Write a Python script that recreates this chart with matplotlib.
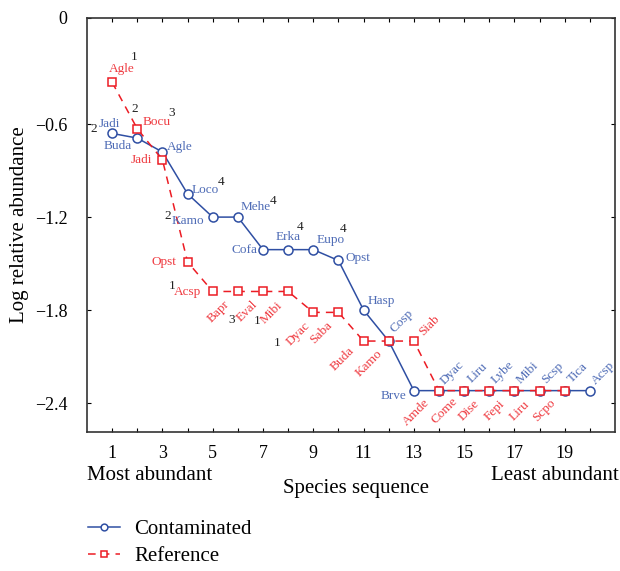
#! /usr/bin/env python3
## Rank-abundance plot: contaminated vs reference sites

import matplotlib
matplotlib.use("Agg")
import matplotlib.pyplot as plt

plt.rcParams['font.family'] = ['Liberation Serif', 'DejaVu Serif']

#-----------------------------------------------------------------------
## Data
cont_names = ['Jadi', 'Buda', 'Agle', 'Loco', 'Kamo', 'Mehe', 'Cofa', 'Erka',
              'Eupo', 'Opst', 'Hasp', 'Cosp', 'Brve', 'Dyac', 'Liru', 'Lybe',
              'Mibi', 'Scsp', 'Tica', 'Acsp']
cont_vals = [-0.66, -0.69, -0.78, -1.05, -1.20, -1.20, -1.41, -1.41,
             -1.41, -1.48, -1.80, -2.00, -2.32, -2.32, -2.32, -2.32,
             -2.32, -2.32, -2.32, -2.32]

ref_names = ['Agle', 'Bocu', 'Jadi', 'Opst', 'Acsp', 'Bapr', 'Eval', 'Mibi',
             'Dyac', 'Saba', 'Buda', 'Kamo', 'Siab', 'Amde', 'Come', 'Dise',
             'Fepi', 'Liru', 'Scpo']
ref_vals = [-0.33, -0.63, -0.83, -1.49, -1.68, -1.68, -1.68, -1.68,
            -1.815, -1.815, -2.00, -2.00, -2.00, -2.32, -2.32, -2.32,
            -2.32, -2.32, -2.32]

# superscript numbers: (series, index, text)
supers = [('c', 0, '2'), ('r', 0, '1'), ('r', 1, '2'), ('r', 1, '3'),
          ('c', 3, '4'), ('c', 4, '2'), ('c', 5, '4'), ('c', 7, '4'),
          ('c', 8, '4'), ('r', 4, '1'), ('r', 6, '3'), ('r', 7, '1'),
          ('r', 8, '1')]

#-----------------------------------------------------------------------
## Label placement (pixel offsets, rotation)
cont_lab = [(-3, 9, 0), (-20, -8, 0), (17, 5, 0), (18, 4, 0), (-25, -4, 0),
            (18, 10, 0), (-19, 0, 0), (0, 13, 0), (17, 10, 0), (20, 2, 0),
            (18, 9, 0), (13, 20, 45), (-20, -5, 0)] + [(13, 18, 45)] * 7
ref_lab = [(10, 13, 0), (19, 7, 0), (-21, 0, 0), (-24, 0, 0), (-25, -1, 0),
           (-19, -20, 45), (-16, -20, 45), (-17, -21, 45), (-15, -21, 45),
           (-17, -20, 45), (-21, -18, 45), (-20, -22, 45), (15, 16, 45),
           (-23, -22, 45)] + [(-20, -20, 45)] * 5
super_off = [(-18, 4), (22, 25), (-3, 20), (34, 16), (33, 12), (-45, 1),
             (35, 16), (12, 23), (30, 21), (-41, 5), (-31, -29), (-31, -30),
             (-36, -31)]

blue = '#2f4fa3'
blue_txt = '#4f6cb6'
red = '#ec1c24'
red_txt = '#ef3b41'

#-----------------------------------------------------------------------
## Plot
fig = plt.figure(figsize=(6.2, 5.71), dpi=100)
ax = fig.add_axes([87/620, 1-432/571, (615-87)/620, (432-18)/571])

xc = list(range(1, len(cont_vals)+1))
xr = list(range(1, len(ref_vals)+1))

ax.plot(xc, cont_vals, '-o', color=blue, lw=1.1, ms=6.5,
        mfc='white', mec=blue, mew=1.1, label='Contaminated', zorder=3)
ax.plot(xr, ref_vals, '--s', color=red, lw=1.1, ms=6, dashes=(5, 4),
        mfc='white', mec=red, mew=1.1, label='Reference', zorder=4)

for x, y, n, (dx, dy, rot) in zip(xc, cont_vals, cont_names, cont_lab):
    ax.annotate(n, (x, y), xytext=(dx, dy), textcoords='offset pixels',
                ha='center', va='center', rotation=rot, fontsize=9.5,
                color=blue_txt, zorder=5)
for x, y, n, (dx, dy, rot) in zip(xr, ref_vals, ref_names, ref_lab):
    ax.annotate(n, (x, y), xytext=(dx, dy), textcoords='offset pixels',
                ha='center', va='center', rotation=rot, fontsize=9.5,
                color=red_txt, zorder=5)
for (s, i, t), (dx, dy) in zip(supers, super_off):
    yv = cont_vals[i] if s == 'c' else ref_vals[i]
    ax.annotate(t, (i+1, yv), xytext=(dx, dy), textcoords='offset pixels',
                ha='center', va='center', fontsize=9.5, color='#222222')

ytop = 0.085
ax.set_xlim(0, 21)
ax.set_ylim(-2.587, ytop)
ax.set_xticks(range(1, 21))
ax.set_xticklabels([str(i) if i % 2 else '' for i in range(1, 21)], fontsize=13)
ax.set_yticks([ytop, -0.6, -1.2, -1.8, -2.4])
ax.set_yticklabels(['0', '\u22120.6', '\u22121.2', '\u22121.8', '\u22122.4'],
                   fontsize=13)
ax.tick_params(direction='in', length=3, width=0.8, top=True, right=True)
ax.tick_params(axis='x', pad=9)
ax.tick_params(axis='y', pad=14)
for sp in ax.spines.values():
    sp.set_linewidth(1.2)
    sp.set_color('#333333')

ax.set_ylabel('Log relative abundance', fontsize=15, labelpad=4)
fig.text(87/620, 1-475/571, 'Most abundant', fontsize=15, ha='left', va='center')
fig.text(619/620, 1-475/571, 'Least abundant', fontsize=15, ha='right', va='center')
fig.text(356/620, 1-489/571, 'Species sequence', fontsize=15, ha='center', va='center')

fig.legend(loc='lower left', bbox_to_anchor=(0.112, -0.024), frameon=False,
           fontsize=15, handlelength=1.55, handletextpad=0.65, labelspacing=0.33,
           markerscale=0.75)

plt.savefig('out.png', dpi=100)
